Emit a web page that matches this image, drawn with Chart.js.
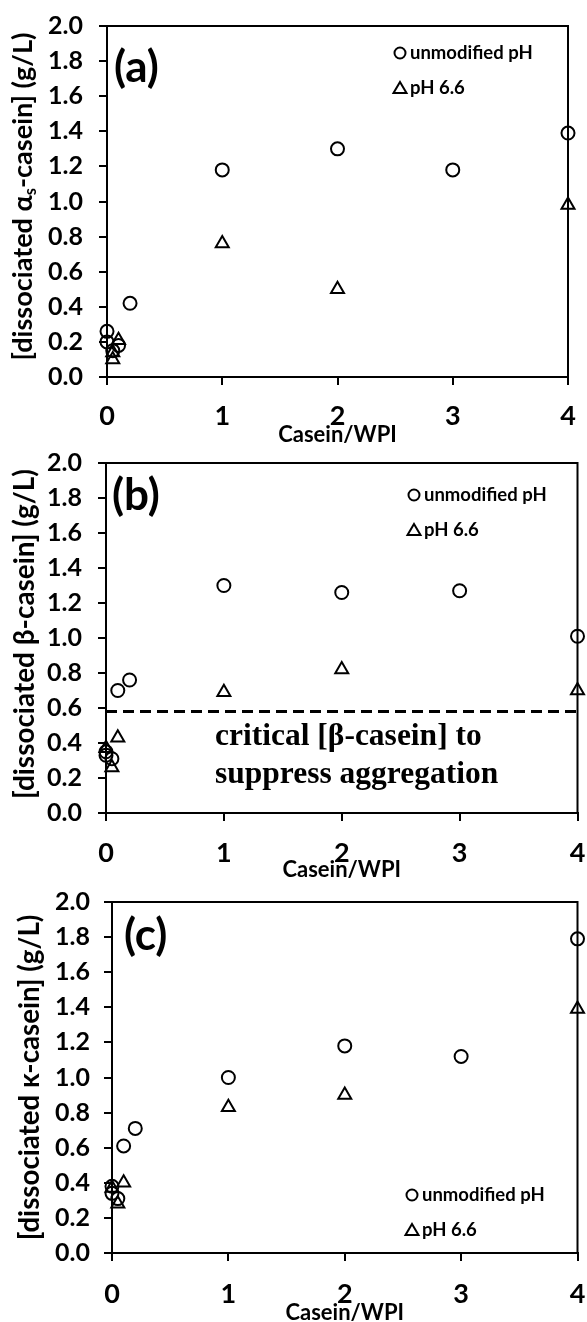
<!DOCTYPE html>
<html>
<head>
<meta charset="utf-8">
<script src="https://cdn.jsdelivr.net/npm/chart.js@4.4.1/dist/chart.umd.min.js"></script>
<style>
  html, body { margin: 0; padding: 0; background: #fff; }
  body { width: 587px; height: 1322px; position: relative; overflow: hidden; }
  canvas { position: absolute; left: 0; }
</style>
</head>
<body>
<canvas id="chartA" style="top:0px"></canvas>
<canvas id="chartB" style="top:440px"></canvas>
<canvas id="chartC" style="top:880px"></canvas>
<script>
// tick labels and series names
var xTicks = [0, 1, 2, 3, 4]
var yTicks = [0, 0.2, 0.4, 0.6, 0.8, 1.0, 1.2, 1.4, 1.6, 1.8, 2.0]
var seriesNames = ['unmodified pH', 'pH 6.6']
var xTitle = 'Casein/WPI'

// (a) alpha_s-casein
var aUnmodX = [0, 0, 0.05, 0.1, 0.2, 1, 2, 3, 4]
var aUnmodY = [0.26, 0.20, 0.15, 0.18, 0.42, 1.18, 1.30, 1.18, 1.39]
var aPh66X = [0.05, 0.1, 0.05, 1, 2, 4]
var aPh66Y = [0.10, 0.21, 0.14, 0.76, 0.50, 0.98]

// (b) beta-casein
var bUnmodX = [0, 0, 0.05, 0.1, 0.2, 1, 2, 3, 4]
var bUnmodY = [0.35, 0.33, 0.31, 0.70, 0.76, 1.30, 1.26, 1.27, 1.01]
var bPh66X = [0, 0.05, 0.1, 1, 2, 4]
var bPh66Y = [0.37, 0.26, 0.43, 0.69, 0.82, 0.70]
var bCritical = 0.58

// (c) kappa-casein
var cUnmodX = [0, 0, 0.05, 0.1, 0.2, 1, 2, 3, 4]
var cUnmodY = [0.38, 0.34, 0.31, 0.61, 0.71, 1.00, 1.18, 1.12, 1.79]
var cPh66X = [0, 0.05, 0.1, 1, 2, 4]
var cPh66Y = [0.37, 0.28, 0.40, 0.83, 0.90, 1.39]

var FONT = 'Lato, "Open Sans", sans-serif'

function pts(xs, ys) {
    return xs.map(function(x, i) { return {x: x, y: ys[i]} })
}

// frame, panel letter, legend, y title and note text
var panelDecor = {
    id: 'panelDecor',
    beforeDatasetsDraw: function(chart) {
        var a = chart.chartArea
        var ctx = chart.ctx
        ctx.save()
        ctx.strokeStyle = '#000'
        ctx.lineWidth = 2
        ctx.strokeRect(a.left, a.top, a.right - a.left, a.bottom - a.top)
        ctx.restore()
    },
    afterDraw: function(chart, args, o) {
        var a = chart.chartArea
        var ctx = chart.ctx
        ctx.save()
        ctx.fillStyle = '#000'
        ctx.strokeStyle = '#000'

        // panel letter
        ctx.font = 'bold ' + o.letterSize + 'px ' + FONT
        ctx.textAlign = 'left'
        ctx.textBaseline = 'middle'
        ctx.fillText(o.letter, a.left + o.letterDx, a.top + o.letterDy)

        // legend
        ctx.font = 'bold 18.5px ' + FONT
        ctx.lineWidth = 2
        for (var i = 0; i < 2; i++) {
            var mx = o.legX, my = o.legY + i * 35
            ctx.beginPath()
            if (i == 0) {
                ctx.arc(mx, my, 5.5, 0, Math.PI * 2)
            } else {
                ctx.moveTo(mx, my - 6)
                ctx.lineTo(mx + 6.5, my + 5)
                ctx.lineTo(mx - 6.5, my + 5)
                ctx.closePath()
            }
            ctx.stroke()
            ctx.fillText(seriesNames[i], mx + 10, my)
        }

        // y title (with subscript part), sized to its length in the figure
        ctx.translate(o.yTitleX, (a.top + a.bottom) / 2 + o.yTitleDy)
        ctx.rotate(-Math.PI / 2)
        function widthAt(size) {
            var w = 0
            o.yTitle.forEach(function(p) {
                ctx.font = 'bold ' + (p.sub ? size * 0.6 : size) + 'px ' + FONT
                w += ctx.measureText(p.t).width
            })
            return w
        }
        var size = 20 * o.yTitleLen / widthAt(20)
        var x = -widthAt(size) / 2
        o.yTitle.forEach(function(p) {
            ctx.font = 'bold ' + (p.sub ? size * 0.6 : size) + 'px ' + FONT
            ctx.fillText(p.t, x, p.sub ? size * 0.3 : 0)
            x += ctx.measureText(p.t).width
        })
        ctx.setTransform(1, 0, 0, 1, 0, 0)

        // note
        if (o.note) {
            ctx.font = 'bold 31.5px "Liberation Serif", "Times New Roman", serif'
            ctx.textBaseline = 'alphabetic'
            o.note.forEach(function(line, i) {
                ctx.fillText(line, o.noteX, chart.scales.y.getPixelForValue(o.noteY) + i * 38)
            })
        }
        ctx.restore()
    }
}

function makePanel(id, w, h, area, unmod, ph66, extra, deco) {
    var cv = document.getElementById(id)
    cv.width = w
    cv.height = h
    cv.style.width = w + 'px'
    cv.style.height = h + 'px'

    var datasets = [
        {
            label: seriesNames[0], data: unmod, pointStyle: 'circle',
            pointRadius: 6.5, borderWidth: 2, borderColor: '#000',
            backgroundColor: 'rgba(0,0,0,0)', clip: false
        },
        {
            label: seriesNames[1], data: ph66, pointStyle: 'triangle',
            pointRadius: 7.5, borderWidth: 2, borderColor: '#000',
            backgroundColor: 'rgba(0,0,0,0)', clip: false
        }
    ].concat(extra || [])

    return new Chart(cv.getContext('2d'), {
        type: 'scatter',
        data: { datasets: datasets },
        options: {
            responsive: false,
            animation: false,
            events: [],
            layout: { padding: { top: area.top, right: w - area.right, left: 0, bottom: 0 } },
            plugins: { legend: { display: false }, tooltip: { enabled: false }, panelDecor: deco },
            scales: {
                x: {
                    type: 'linear', min: 0, max: 4,
                    afterBuildTicks: function(s) { s.ticks = xTicks.map(function(v) { return {value: v} }) },
                    afterFit: function(s) { s.height = h - area.bottom; s.paddingLeft = 0; s.paddingRight = 0 },
                    grid: { drawOnChartArea: false, drawTicks: true, tickLength: 8, color: '#000', lineWidth: 2 },
                    border: { display: true, color: '#000', width: 2 },
                    ticks: { color: '#000', padding: area.xPad, maxRotation: 0, autoSkip: false,
                        font: { family: FONT, size: 27, weight: 'bold' } },
                    title: { display: true, text: xTitle, color: '#000',
                        font: { family: FONT, size: 22, weight: 'bold', lineHeight: 0.8 },
                        padding: { top: 0, bottom: area.titlePad } }
                },
                y: {
                    type: 'linear', min: 0, max: 2,
                    afterBuildTicks: function(s) { s.ticks = yTicks.map(function(v) { return {value: v} }) },
                    afterFit: function(s) { s.width = area.left; s.paddingTop = 0; s.paddingBottom = 0 },
                    grid: { drawOnChartArea: false, drawTicks: true, tickLength: 8, color: '#000', lineWidth: 2 },
                    border: { display: true, color: '#000', width: 2 },
                    ticks: { color: '#000', padding: area.yPad, autoSkip: false,
                        font: { family: FONT, size: 25, weight: 'bold' },
                        callback: function(v) { return Number(v).toFixed(1) } }
                }
            }
        },
        plugins: [panelDecor]
    })
}

makePanel('chartA', 587, 450,
    { left: 107, right: 568, top: 26, bottom: 377, xPad: 15, yPad: 16, titlePad: 6 },
    pts(aUnmodX, aUnmodY), pts(aPh66X, aPh66Y), null,
    { letter: '(a)', letterSize: 44, letterDx: 7, letterDy: 42,
      legX: 400, legY: 53,
      yTitleX: 23, yTitleDy: -5, yTitleLen: 328,
      yTitle: [{t: '[dissociated \u03b1'}, {t: 's', sub: true}, {t: '-casein] (g/L)'}] })

makePanel('chartB', 587, 450,
    { left: 106, right: 579, top: 23, bottom: 373, xPad: 16, yPad: 16, titlePad: 11 },
    pts(bUnmodX, bUnmodY), pts(bPh66X, bPh66Y),
    [{
        type: 'line', data: [{x: 0, y: bCritical}, {x: 4, y: bCritical}],
        borderColor: '#000', borderWidth: 3, borderDash: [11, 6], pointRadius: 0
    }],
    { letter: '(b)', letterSize: 44, letterDx: 6, letterDy: 33,
      legX: 414, legY: 55,
      yTitleX: 25, yTitleDy: -4, yTitleLen: 330,
      yTitle: [{t: '[dissociated \u03b2-casein] (g/L)'}],
      note: ['critical [\u03b2-casein] to', 'suppress aggregation'], noteX: 215, noteY: 0.39 })

makePanel('chartC', 587, 442,
    { left: 112, right: 585, top: 22, bottom: 373, xPad: 17, yPad: 14, titlePad: 0 },
    pts(cUnmodX, cUnmodY), pts(cPh66X, cPh66Y), null,
    { letter: '(c)', letterSize: 44, letterDx: 12, letterDy: 34,
      legX: 412, legY: 315,
      yTitleX: 30, yTitleDy: 0, yTitleLen: 326,
      yTitle: [{t: '[dissociated \u03ba-casein] (g/L)'}] })
</script>
</body>
</html>
